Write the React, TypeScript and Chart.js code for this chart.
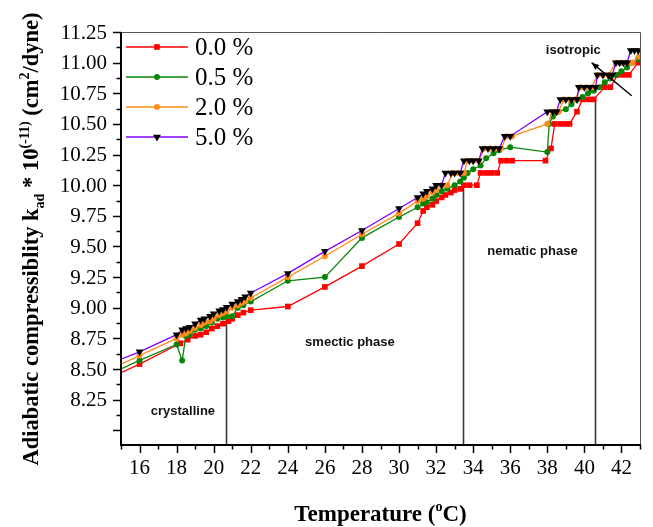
import React, { useEffect, useRef } from "react";
import { Chart, registerables } from "chart.js";
Chart.register(...registerables);

// ---------------- data ----------------
const seriesNames = ["0.0 %", "0.5 %", "2.0 %", "5.0 %"];

const tempsRed = [15, 16, 18.2, 18.6, 19.0, 19.3, 19.6, 19.9, 20.2, 20.5, 20.8, 21.0, 21.3, 21.6, 22.0, 24, 26, 28, 30, 31.0, 31.3, 31.5, 31.8, 32.0, 32.3, 32.5, 32.8, 33.0, 33.3, 33.5, 33.8, 34.2, 34.4, 34.7, 35.0, 35.3, 35.5, 35.8, 36.1, 37.9, 38.2, 38.4, 38.7, 39.0, 39.2, 39.6, 39.9, 40.2, 40.5, 41.1, 41.4, 41.8, 42.1, 42.4, 42.9];
const valuesRed = [8.47, 8.54, 8.71, 8.74, 8.77, 8.78, 8.80, 8.83, 8.85, 8.87, 8.89, 8.91, 8.94, 8.96, 8.98, 9.01, 9.17, 9.34, 9.52, 9.69, 9.79, 9.82, 9.84, 9.87, 9.90, 9.92, 9.94, 9.96, 9.97, 10.0, 10.0, 10.0, 10.1, 10.1, 10.1, 10.1, 10.2, 10.2, 10.2, 10.2, 10.3, 10.5, 10.5, 10.5, 10.5, 10.6, 10.7, 10.7, 10.7, 10.8, 10.8, 10.9, 10.9, 10.9, 11.0];

const tempsGreen = [15, 16, 18.0, 18.3, 18.5, 18.7, 19.0, 19.3, 19.6, 19.9, 20.2, 20.5, 20.7, 21.0, 21.3, 21.6, 22.0, 24, 26, 28, 30, 31.0, 31.3, 31.5, 31.8, 32.0, 32.3, 32.6, 33.0, 33.3, 33.5, 33.7, 34.0, 34.4, 34.7, 35.1, 35.4, 36.0, 38.0, 38.1, 38.3, 38.6, 39.0, 39.3, 39.6, 39.9, 40.2, 40.5, 40.8, 41.1, 41.4, 41.7, 42.0, 42.3, 42.6, 42.9];
const valuesGreen = [8.50, 8.57, 8.70, 8.57, 8.77, 8.78, 8.82, 8.83, 8.85, 8.88, 8.91, 8.92, 8.93, 8.93, 9.00, 9.02, 9.05, 9.22, 9.25, 9.57, 9.74, 9.82, 9.85, 9.86, 9.89, 9.92, 9.95, 9.97, 10.0, 10.03, 10.06, 10.10, 10.13, 10.16, 10.22, 10.26, 10.285, 10.31, 10.27, 10.50, 10.56, 10.60, 10.62, 10.66, 10.70, 10.72, 10.75, 10.77, 10.80, 10.84, 10.87, 10.90, 10.93, 10.96, 11.00, 11.03];

const tempsOrange = [15, 16, 18.0, 18.3, 18.5, 18.7, 19.0, 19.3, 19.5, 19.8, 20.0, 20.3, 20.5, 20.7, 21.0, 21.3, 21.5, 21.7, 22.0, 24, 26, 28, 30, 31.0, 31.3, 31.5, 31.8, 32.0, 32.3, 32.6, 32.9, 33.2, 33.5, 33.7, 34.0, 34.3, 34.6, 34.9, 35.2, 35.5, 35.8, 36.1, 38.0, 38.3, 38.6, 38.9, 39.2, 39.5, 39.8, 40.1, 40.4, 40.7, 41.0, 41.3, 41.7, 42.0, 42.3, 42.6, 42.95];
const valuesOrange = [8.54, 8.61, 8.75, 8.78, 8.79, 8.81, 8.835, 8.86, 8.88, 8.89, 8.91, 8.94, 8.955, 8.97, 9.0, 9.02, 9.04, 9.05, 9.08, 9.25, 9.42, 9.60, 9.77, 9.87, 9.89, 9.91, 9.94, 9.96, 10.0, 10.0, 10.1, 10.1, 10.1, 10.2, 10.2, 10.2, 10.3, 10.3, 10.3, 10.3, 10.4, 10.4, 10.5, 10.6, 10.6, 10.7, 10.7, 10.7, 10.8, 10.8, 10.8, 10.9, 10.9, 10.9, 11.0, 11.0, 11.0, 11.0, 11.05];

const tempsPurple = [15, 16, 18.0, 18.3, 18.5, 18.7, 19.0, 19.3, 19.5, 19.8, 20.0, 20.3, 20.5, 20.7, 21.0, 21.3, 21.5, 21.7, 22.0, 24, 26, 28, 30, 31.0, 31.3, 31.5, 31.8, 32.0, 32.3, 32.5, 32.8, 33.0, 33.3, 33.5, 33.8, 34.0, 34.3, 34.5, 34.8, 35.1, 35.4, 35.7, 36.0, 38.0, 38.3, 38.5, 38.7, 39.0, 39.3, 39.6, 39.7, 40.0, 40.3, 40.6, 40.7, 41.0, 41.3, 41.5, 41.7, 41.9, 42.1, 42.3, 42.5, 42.7, 42.9];
const valuesPurple = [8.58, 8.64, 8.78, 8.82, 8.83, 8.84, 8.87, 8.90, 8.91, 8.93, 8.95, 8.975, 8.985, 9.005, 9.03, 9.05, 9.07, 9.09, 9.12, 9.28, 9.46, 9.63, 9.81, 9.90, 9.93, 9.95, 9.97, 10.0, 10.0, 10.1, 10.1, 10.1, 10.1, 10.2, 10.2, 10.2, 10.2, 10.3, 10.3, 10.3, 10.3, 10.4, 10.4, 10.6, 10.6, 10.6, 10.7, 10.7, 10.7, 10.7, 10.8, 10.8, 10.8, 10.8, 10.9, 10.9, 10.9, 10.9, 11.0, 11.0, 11.0, 11.0, 11.1, 11.1, 11.1];

const xTickLabels = [16, 18, 20, 22, 24, 26, 28, 30, 32, 34, 36, 38, 40, 42];
const yTickLabels = ["8.25", "8.50", "8.75", "9.00", "9.25", "9.50", "9.75", "10.00", "10.25", "10.50", "10.75", "11.00", "11.25"];

const phaseLineTemps = [20.65, 33.43, 40.57];
const phaseLineTops = [9.0, 10.0, 10.7];
const phaseLabels = ["crystalline", "smectic phase", "nematic phase", "isotropic"];
const phaseLabelTemps = [18.34, 27.35, 37.2, 39.4];
const phaseLabelValues = [8.152, 8.715, 9.457, 11.1];
const arrowFrom = [42.55, 10.73];
const arrowTo = [40.39, 11.0];

// ---------------- styles ----------------
const COLORS = ["#FF0000", "#078507", "#FF8C1A", "#8000FF"];
const MARKER_COLORS = ["#FF0000", "#078507", "#FF8C1A", "#000000"];
const STYLES = ["rect", "circle", "circle", "triangle"];
const RADII = [4, 3, 3, 4.5];

const SERIF = '"Liberation Serif", "Times New Roman", serif';
const SANS = '"Liberation Sans", Arial, sans-serif';

function pts(xs: number[], ys: number[]) {
  return xs.map((x, i) => ({ x, y: ys[i] }));
}

function drawMarker(ctx: CanvasRenderingContext2D, i: number, x: number, y: number) {
  ctx.save();
  ctx.fillStyle = MARKER_COLORS[i];
  ctx.beginPath();
  const r = RADII[i];
  if (STYLES[i] === "rect") {
    const s = r * Math.SQRT1_2;
    ctx.rect(x - s, y - s, 2 * s, 2 * s);
  } else if (STYLES[i] === "circle") {
    ctx.arc(x, y, r, 0, Math.PI * 2);
  } else {
    const w = r * 0.866;
    ctx.moveTo(x - w, y - r * 0.5);
    ctx.lineTo(x + w, y - r * 0.5);
    ctx.lineTo(x, y + r);
    ctx.closePath();
  }
  ctx.fill();
  ctx.restore();
}

type Part = { t: string; k: "m" | "sub" | "sup" };

function drawRich(ctx: CanvasRenderingContext2D, parts: Part[], cx: number, baseline: number, main: number, small: number) {
  const fontOf = (k: string) => `bold ${k === "m" ? main : small}px ${SERIF}`;
  let total = 0;
  const widths = parts.map((p) => {
    ctx.font = fontOf(p.k);
    const w = ctx.measureText(p.t).width;
    total += w;
    return w;
  });
  let x = cx - total / 2;
  ctx.textAlign = "left";
  ctx.textBaseline = "alphabetic";
  parts.forEach((p, i) => {
    ctx.font = fontOf(p.k);
    const dy = p.k === "sub" ? main * 0.28 : p.k === "sup" ? -main * 0.42 : 0;
    ctx.fillText(p.t, x, baseline + dy);
    x += widths[i];
  });
}

const decor = {
  id: "decor",
  beforeDatasetsDraw(chart: any) {
    const { ctx, scales } = chart;
    const { x, y } = scales;
    const a = chart.chartArea;
    ctx.save();
    ctx.strokeStyle = "#3a3a3a";
    ctx.lineWidth = 1.6;
    phaseLineTemps.forEach((t, i) => {
      const px = Math.round(x.getPixelForValue(t)) + 0.5;
      ctx.beginPath();
      ctx.moveTo(px, a.bottom);
      ctx.lineTo(px, y.getPixelForValue(phaseLineTops[i]));
      ctx.stroke();
    });
    ctx.restore();
  },
  afterDatasetsDraw(chart: any) {
    const { ctx, scales } = chart;
    const { x, y } = scales;
    const a = chart.chartArea;
    ctx.save();
    // frame: top and right thin
    ctx.strokeStyle = "#555";
    ctx.lineWidth = 1;
    ctx.beginPath();
    ctx.moveTo(a.left, a.top + 0.5);
    ctx.lineTo(a.right + 0.5, a.top + 0.5);
    ctx.lineTo(a.right + 0.5, a.bottom);
    ctx.stroke();
    // left & bottom axes
    ctx.strokeStyle = "#000";
    ctx.lineWidth = 2;
    ctx.beginPath();
    ctx.moveTo(a.left, a.top);
    ctx.lineTo(a.left, a.bottom);
    ctx.lineTo(a.right + 1, a.bottom);
    ctx.stroke();

    // y ticks every 0.125, major every 0.25
    ctx.lineWidth = 1.5;
    for (let k = 0; k <= 30; k++) {
      const v = 8.0 + k * 0.125;
      if (v > 11.25 + 1e-6) break;
      const py = Math.round(y.getPixelForValue(v)) + 0.5;
      const major = k % 2 === 0;
      ctx.beginPath();
      ctx.moveTo(a.left, py);
      ctx.lineTo(a.left - (major ? 8 : 4.5), py);
      ctx.stroke();
    }
    // x ticks every 1, major on even
    for (let t = 15; t <= 43; t++) {
      const px = Math.round(x.getPixelForValue(t)) + 0.5;
      const major = t % 2 === 0;
      ctx.beginPath();
      ctx.moveTo(px, a.bottom);
      ctx.lineTo(px, a.bottom + (major ? 8 : 4.5));
      ctx.stroke();
    }

    // tick labels
    ctx.fillStyle = "#000";
    ctx.font = `21px ${SERIF}`;
    ctx.textAlign = "right";
    ctx.textBaseline = "middle";
    yTickLabels.forEach((lab) => {
      ctx.fillText(lab, a.left - 14, y.getPixelForValue(parseFloat(lab)) + 1);
    });
    ctx.textAlign = "center";
    ctx.textBaseline = "top";
    xTickLabels.forEach((t) => {
      ctx.fillText(String(t), x.getPixelForValue(t), a.bottom + 13);
    });

    // phase labels
    ctx.font = `bold 13px ${SANS}`;
    ctx.fillStyle = "#111";
    ctx.textAlign = "center";
    ctx.textBaseline = "middle";
    phaseLabels.forEach((lab, i) => {
      ctx.fillText(lab, x.getPixelForValue(phaseLabelTemps[i]), y.getPixelForValue(phaseLabelValues[i]));
    });

    // arrow
    const x0 = x.getPixelForValue(arrowFrom[0]);
    const y0 = y.getPixelForValue(arrowFrom[1]);
    const x1 = x.getPixelForValue(arrowTo[0]);
    const y1 = y.getPixelForValue(arrowTo[1]);
    ctx.strokeStyle = "#000";
    ctx.lineWidth = 1.4;
    ctx.beginPath();
    ctx.moveTo(x0, y0);
    ctx.lineTo(x1, y1);
    ctx.stroke();
    const ang = Math.atan2(y1 - y0, x1 - x0);
    ctx.fillStyle = "#000";
    ctx.beginPath();
    ctx.moveTo(x1, y1);
    ctx.lineTo(x1 - 8 * Math.cos(ang - 0.4), y1 - 8 * Math.sin(ang - 0.4));
    ctx.lineTo(x1 - 8 * Math.cos(ang + 0.4), y1 - 8 * Math.sin(ang + 0.4));
    ctx.closePath();
    ctx.fill();

    // legend
    const ly = [47, 77, 107, 137];
    seriesNames.forEach((name, i) => {
      ctx.strokeStyle = COLORS[i];
      ctx.lineWidth = 1.5;
      ctx.beginPath();
      ctx.moveTo(a.left + 5, ly[i]);
      ctx.lineTo(a.left + 67, ly[i]);
      ctx.stroke();
      drawMarker(ctx, i, a.left + 36, ly[i]);
      ctx.fillStyle = "#000";
      ctx.font = `25px ${SERIF}`;
      ctx.textAlign = "left";
      ctx.textBaseline = "middle";
      ctx.fillText(name, a.left + 74, ly[i] + 1);
    });

    // axis titles
    ctx.fillStyle = "#000";
    drawRich(ctx, [
      { t: "Temperature (", k: "m" },
      { t: "o", k: "sup" },
      { t: "C)", k: "m" },
    ], (a.left + a.right) / 2, 521, 23, 14);

    ctx.save();
    ctx.translate(30, 239);
    ctx.rotate(-Math.PI / 2);
    drawRich(ctx, [
      { t: "Adiabatic compressiblity k", k: "m" },
      { t: "ad", k: "sub" },
      { t: " * 10", k: "m" },
      { t: "(-11)", k: "sup" },
      { t: " (cm", k: "m" },
      { t: "2", k: "sup" },
      { t: "/dyne)", k: "m" },
    ], 0, 8, 22.5, 14);
    ctx.restore();

    ctx.restore();
  },
};

export default function App() {
  const ref = useRef<HTMLCanvasElement>(null);
  useEffect(() => {
    document.body.style.margin = "0";
    const canvas = ref.current as HTMLCanvasElement;
    const all = [
      pts(tempsRed, valuesRed),
      pts(tempsGreen, valuesGreen),
      pts(tempsOrange, valuesOrange),
      pts(tempsPurple, valuesPurple),
    ];
    const datasets = all.map((data, i) => ({
      label: seriesNames[i],
      data,
      showLine: true,
      borderColor: COLORS[i],
      borderWidth: 1.3,
      backgroundColor: MARKER_COLORS[i],
      pointBackgroundColor: MARKER_COLORS[i],
      pointBorderColor: MARKER_COLORS[i],
      pointBorderWidth: 0,
      pointStyle: STYLES[i],
      rotation: i === 3 ? 180 : 0,
      pointRadius: (c: any) => (c.dataIndex === 0 ? 0 : RADII[i]),
      order: 3 - i,
      tension: 0,
    }));
    const chart = new Chart(canvas, {
      type: "scatter",
      data: { datasets } as any,
      options: {
        responsive: false,
        animation: false,
        events: [],
        layout: { padding: { left: 121, right: 13, top: 32, bottom: 82 } },
        scales: {
          x: { type: "linear", min: 15, max: 43, display: false },
          y: { type: "linear", min: 7.88, max: 11.25, display: false },
        },
        plugins: { legend: { display: false }, tooltip: { enabled: false } },
      } as any,
      plugins: [decor],
    });
    return () => chart.destroy();
  }, []);
  return <canvas ref={ref} width={653} height={527} style={{ display: "block" }} />;
}
